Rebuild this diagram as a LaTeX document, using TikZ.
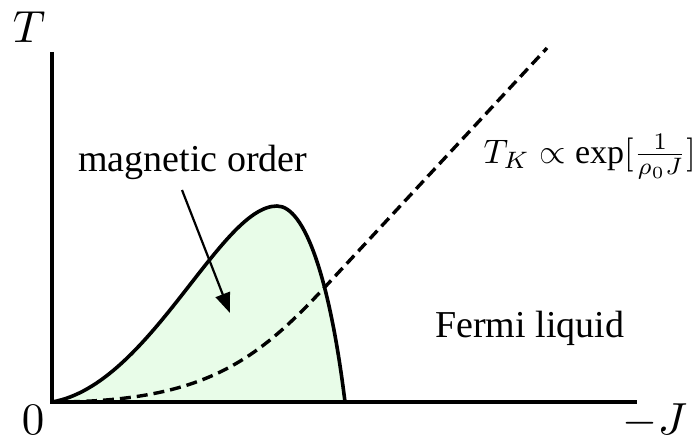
\documentclass[tikz,border=0pt]{standalone}
\usepackage{fontspec}
\setmainfont{Liberation Serif}
\usetikzlibrary{arrows.meta}
\definecolor{phasefill}{RGB}{232,252,232}
\begin{document}
\begin{tikzpicture}[x=1pt,y=-1pt,
  axisline/.style={line width=3.2pt},
  phaseline/.style={line width=3.6pt},
  kondoline/.style={line width=3.4pt,dash pattern=on 11pt off 6pt},
  pointer/.style={line width=2.2pt,-{Triangle[length=20pt,width=15pt]}},
  bigtext/.style={font=\fontsize{38}{40}\selectfont,inner sep=0pt,anchor=base west},
  axlabel/.style={scale=4.5,inner sep=0pt,anchor=base west}]
\useasboundingbox (0,0) rectangle (696,444);
\coordinate (O) at (52,402);
\coordinate (ytop) at (52,52);
\coordinate (xend) at (637,402);
\coordinate (peak) at (277,206);
\coordinate (xcut) at (345,402);
\coordinate (kcross) at (325,287);
\coordinate (kend) at (547,48);
% fill
\fill[phasefill] (O) .. controls (150,385) and (220,206) .. (peak)
  .. controls (305,206) and (330,280) .. (xcut) -- cycle;
% dashed Kondo line
\draw[kondoline] (O) .. controls (202,402) and (255,362.4) .. (kcross) -- (kend);
% solid phase boundary
\draw[phaseline,line join=round] (O) .. controls (150,385) and (220,206) .. (peak)
  .. controls (305,206) and (330,280) .. (xcut);
% axes
\draw[axisline] (ytop) -- (O) -- (xend);
% labels
\node[axlabel] (tlab) at (12,43) {$T$};
\node[axlabel] (zlab) at (21,434) {$0$};
\node[axlabel] (jlab) at (622,434) {$-J$};
\node[bigtext] (mag) at (78,171) {magnetic order};
\node[bigtext] (fermi) at (435,337) {Fermi liquid};
\node[scale=3.4,inner sep=0pt,anchor=base west] (tk) at (483,163) {$T_K\propto\exp[\frac{1}{\rho_0 J}]$};
\coordinate (astart) at (182,190);
\coordinate (aend) at (230,313);
\draw[pointer] (astart) -- (aend);
\end{tikzpicture}
\end{document}
